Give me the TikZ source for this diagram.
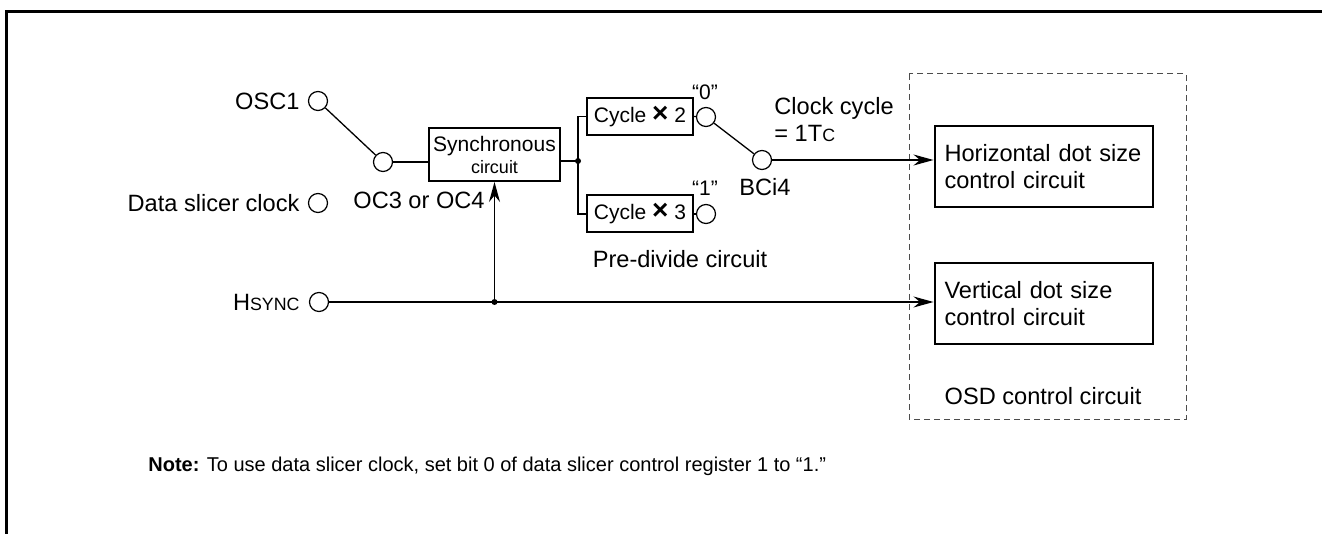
\documentclass[tikz,border=0pt]{standalone}
\usepackage{fontspec}
\setmainfont{Liberation Sans}
\usepackage{tikz}
\usetikzlibrary{arrows.meta,positioning}

\newcommand{\smallcap}[1]{{\fontsize{8.9}{10}\selectfont #1}}
\newcommand{\timesmark}{{\fontsize{14}{14}\selectfont\bfseries ×}}

\begin{document}
\begin{tikzpicture}[
    x=0.5pt, y=-0.5pt,
    every node/.style={font=\fontsize{11.8}{13.5}\selectfont, inner sep=0pt},
    blk_box/.style={draw, line width=1pt, align=center, font=\fontsize{10.5}{12}\selectfont},
    osd_box/.style={draw, line width=1pt, align=left, text width=99pt, inner xsep=5pt, minimum height=40.5pt},
    pin_dot/.style={circle, draw, line width=0.6pt, minimum size=9.5pt, inner sep=0pt},
    jn_dot/.style={circle, fill, minimum size=3pt, inner sep=0pt},
    wire/.style={line width=0.65pt},
    sig_flow/.style={-{Stealth[length=10pt,width=5.5pt]}, line width=0.65pt}
]
  \useasboundingbox (0,0) rectangle (1322,534);

  % Outer frame
  \draw[line width=1.5pt] (6,534) -- (6,12) -- (1322,12);

  % Clock sources and selector
  \node[pin_dot] (osc1) at (318,101) {};
  \node[pin_dot] (dsc) at (318,203) {};
  \node[pin_dot] (hsync) at (319,302) {};
  \node[left=4pt of osc1] (osc1_lbl) {OSC1};
  \node[left=4pt of dsc] (dsc_lbl) {Data slicer clock};
  \node[left=4.5pt of hsync] (hsync_lbl) {H\smallcap{SYNC}};
  \node[pin_dot] (oc_pin) at (383,162) {};
  \node[anchor=west] (oc_lbl) at (353,200) {OC3 or OC4};

  % Synchronous and pre-divide circuits
  \node[blk_box, minimum width=65.5pt, minimum height=26.5pt] (sync) at (494.5,154.5)
    {Synchronous\\[-1pt]{\fontsize{9}{10}\selectfont circuit}};
  \coordinate (split) at (578,161);
  \node[blk_box, minimum width=53pt, minimum height=18.5pt] (cyc2) at (640,116.5) {Cycle \timesmark\ 2};
  \node[blk_box, minimum width=53pt, minimum height=18.5pt] (cyc3) at (640,214) {Cycle \timesmark\ 3};
  \node[pin_dot] (pin0) at (706,117) {};
  \node[pin_dot] (pin1) at (706,214) {};
  \node[font=\fontsize{10.5}{12}\selectfont] (pin0_lbl) at (705,92) {“0”};
  \node[font=\fontsize{10.5}{12}\selectfont] (pin1_lbl) at (705,188) {“1”};
  \node (pre_lbl) at (680,259) {Pre-divide circuit};
  \node[pin_dot] (bci4) at (762,160) {};
  \node (bci4_lbl) at (765,187) {BCi4};
  \node[anchor=west, align=left] (clk_lbl) at (774,119.5) {Clock cycle\\= 1T\smallcap{C}};

  % OSD control circuit
  \draw[black!70, line width=0.5pt, dash pattern=on 3pt off 2pt] (909,74) rectangle (1186,419);
  \node[osd_box] (hdot) at (1043.5,166.5) {Horizontal dot size\\control circuit};
  \node[osd_box] (vdot) at (1043.5,303.5) {Vertical dot size\\control circuit};
  \node (osd_lbl) at (1043,396) {OSD control circuit};

  % Note
  \node[anchor=west, font=\fontsize{10}{12}\selectfont] (note) at (148,466)
    {\textbf{Note:} To use data slicer clock, set bit 0 of data slicer control register 1 to “1.”};

  % Connections
  \draw[wire] (osc1) -- (oc_pin);
  \draw[wire] (oc_pin) -- (oc_pin -| sync.west);
  \draw[wire] (split -| sync.east) -- (split);
  \draw[wire] (cyc2.west) -| (split) |- (cyc3.west);
  \node[jn_dot] at (split) {};
  \draw[wire] (cyc2.east) -- (pin0);
  \draw[wire] (cyc3.east) -- (pin1);
  \draw[wire] (pin0) -- (bci4);
  \draw[sig_flow] (bci4) -- (bci4 -| hdot.west);
  \draw[sig_flow] (hsync) -- (hsync -| vdot.west);
  \coordinate (tap) at (sync.south |- hsync);
  \node[jn_dot] at (tap) {};
  \draw[sig_flow] (tap) -- (sync.south);

\end{tikzpicture}
\end{document}
